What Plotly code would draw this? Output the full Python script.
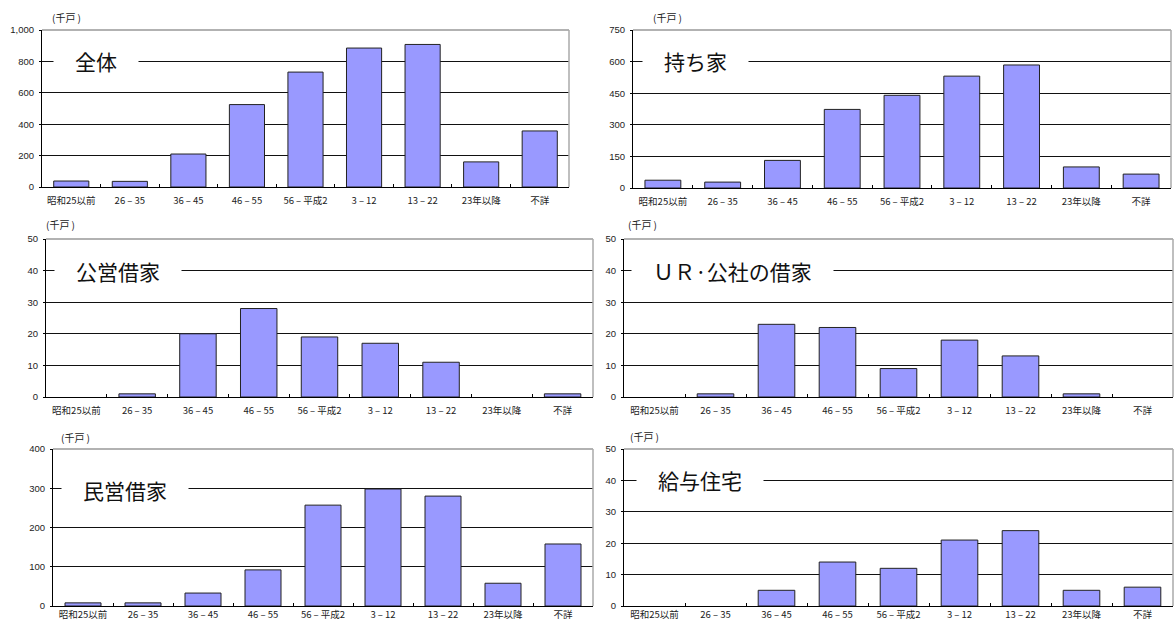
import plotly.graph_objects as go

W, H = 1176, 625

categories = ["昭和25以前", "26 – 35", "36 – 45", "46 – 55", "56 – 平成2",
              "3 – 12", "13 – 22", "23年以降", "不詳"]

total = [38, 36, 210, 525, 732, 885, 908, 160, 357]
owned = [37, 28, 131, 373, 440, 531, 584, 100, 66]
public_rent = [0, 1, 20, 28, 19, 17, 11, 0, 1]
ur_rent = [0, 1, 23, 22, 9, 18, 13, 1, 0]
private_rent = [8, 8, 33, 92, 257, 298, 280, 58, 158]
company_housing = [0, 0, 5, 14, 12, 21, 24, 5, 6]

titles = ["全体", "持ち家", "公営借家", "ＵＲ·公社の借家", "民営借家", "給与住宅"]
series = [total, owned, public_rent, ur_rent, private_rent, company_housing]
y_max = [1000, 750, 50, 50, 400, 50]
y_dtick = [200, 150, 10, 10, 100, 10]
unit_label = "(千戸 )"

# pixel boxes: (left, right, top, bottom)
boxes = [(42, 569, 30, 187), (633, 1171, 30, 188),
         (46, 593, 239, 397), (624, 1173, 239, 397),
         (53, 593, 449, 606), (624, 1173, 449, 606)]
title_pos = [(96, 61), (695, 61), (118, 271), (732, 271), (125, 490), (700, 480)]
unit_pos = [(66, 17), (667, 17), (60, 224), (642, 224), (75, 437), (644, 436)]
label_standoff = [5, 5, 5, 5, 0, 0]


def px(x):
    return x / W


def py(y):
    return 1 - y / H


fig = go.Figure()
annotations = []
shapes = []
for i, (vals, ttl) in enumerate(zip(series, titles)):
    n = "" if i == 0 else str(i + 1)
    l, r, t, b = boxes[i]
    shown = [v if v else None for v in vals]
    fig.add_trace(go.Bar(
        x=categories, y=shown, xaxis="x" + n, yaxis="y" + n,
        marker=dict(color="#9999FF", line=dict(color="#222", width=1)),
        showlegend=False, hoverinfo="x+y"))
    fig.layout["xaxis" + n] = dict(
        domain=[px(l), px(r)], anchor="y" + n, type="category",
        categoryorder="array", categoryarray=categories, automargin=False,
        showline=True, linecolor="#000", linewidth=1, tickangle=0,
        ticks="inside", ticklen=3, tickcolor="#000", tickson="boundaries",
        ticklabelstandoff=label_standoff[i],
        showgrid=False, tickfont=dict(family="Noto Sans CJK JP", size=9.5, color="#222"),
        fixedrange=True)
    fig.layout["yaxis" + n] = dict(
        domain=[py(b), py(t)], anchor="x" + n, range=[0, y_max[i]], dtick=y_dtick[i],
        tickformat=",", showline=True, linecolor="#000", linewidth=1, automargin=False,
        ticks="outside", ticklen=2, tickcolor="#000", ticklabelstandoff=3,
        showgrid=True, gridcolor="#111", gridwidth=1, zeroline=False,
        tickfont=dict(family="Liberation Sans, Arial", size=9.5, color="#222"),
        fixedrange=True)
    xd = "x" + n + " domain"
    yd = "y" + n + " domain"
    shapes.append(dict(type="line", xref=xd, yref=yd, x0=0, x1=1, y0=1, y1=1,
                       line=dict(color="#999", width=1.5), layer="above"))
    shapes.append(dict(type="line", xref=xd, yref=yd, x0=1, x1=1, y0=0, y1=1,
                       line=dict(color="#aaa", width=1.5), layer="above"))
    tx, ty = title_pos[i]
    annotations.append(dict(
        text="\u2003" + ttl + "\u2003", x=px(tx), y=py(ty), xref="paper", yref="paper",
        xanchor="center", yanchor="middle", showarrow=False, bgcolor="white",
        borderpad=0, font=dict(family="Noto Sans CJK JP", size=21, color="#111")))
    ux, uy = unit_pos[i]
    annotations.append(dict(
        text=unit_label, x=px(ux), y=py(uy), xref="paper", yref="paper",
        xanchor="center", yanchor="middle", showarrow=False,
        font=dict(family="Noto Sans CJK JP", size=10, color="#222")))

fig.update_layout(
    width=W, height=H, margin=dict(l=0, r=0, t=0, b=0, autoexpand=False),
    paper_bgcolor="white", plot_bgcolor="white",
    bargap=0.4, annotations=annotations, shapes=shapes)

fig.write_html("out.html")
